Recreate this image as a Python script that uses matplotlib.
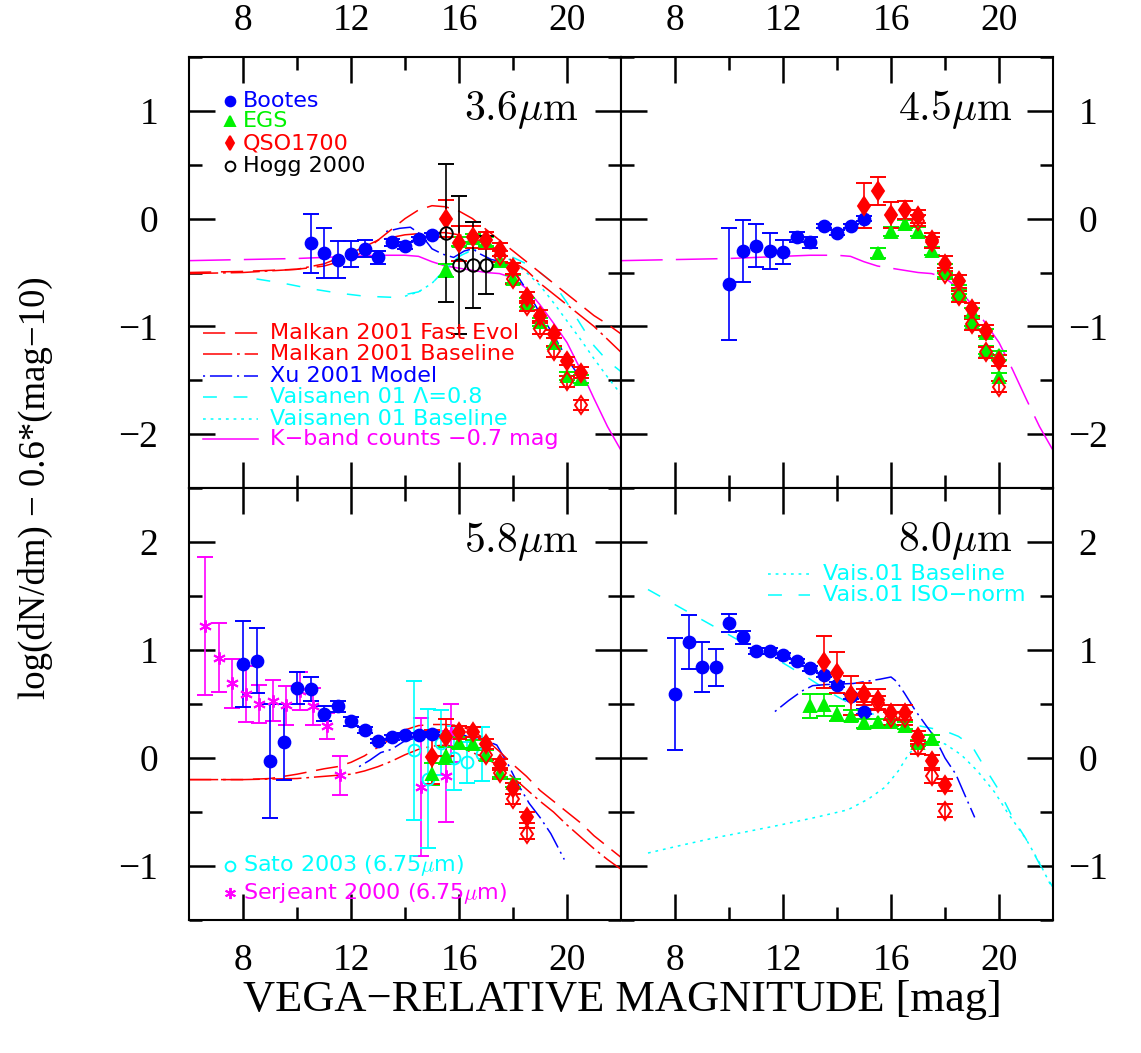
import matplotlib
matplotlib.use('Agg')
import matplotlib.pyplot as plt
from matplotlib.ticker import FixedLocator, MultipleLocator

plt.rcParams['mathtext.fontset'] = 'cm'
plt.rcParams['lines.scale_dashes'] = False

BLUE, GREEN, RED = (0, 0, 1), (0, 0.95, 0), (1, 0, 0)
CYAN, MAGENTA, BLACK = (0, 1, 1), (1, 0, 1), (0, 0, 0)

# ---------------- 3.6 micron ----------------
m36_boo = [10.5, 11, 11.5, 12, 12.5, 13, 13.5, 14, 14.5, 15]
y36_boo = [-0.23, -0.32, -0.38, -0.33, -0.28, -0.36, -0.22, -0.25, -0.19, -0.15]
e36_boo = [0.27, 0.23, 0.17, 0.12, 0.08, 0.06, 0.03, 0.03, 0.02, 0.02]

m36_qso = [15.5, 16, 16.5, 17, 17.5, 18, 18.5, 19, 19.5, 20, 20.5]
y36_qso = [0.0, -0.23, -0.17, -0.2, -0.29, -0.46, -0.73, -0.9, -1.07, -1.32, -1.43]
e36_qso = [0.17, 0.16, 0.1, 0.08, 0.06, 0.05, 0.05, 0.05, 0.04, 0.04, 0.05]
m36_qso2 = [17.5, 18, 18.5, 19, 19.5, 20, 20.5]
y36_qso2 = [-0.35, -0.56, -0.81, -1.02, -1.23, -1.51, -1.73]
e36_qso2 = [0.05, 0.05, 0.05, 0.05, 0.05, 0.05, 0.05]

m36_egs = [15.5, 16, 16.5, 17, 17.5, 18, 18.5, 19, 19.5, 20, 20.5]
y36_egs = [-0.48, -0.21, -0.18, -0.21, -0.39, -0.56, -0.78, -0.96, -1.15, -1.46, -1.49]
e36_egs = [0.06, 0.04, 0.04, 0.04, 0.04, 0.04, 0.04, 0.04, 0.04, 0.04, 0.04]

m36_hogg = [15.5, 16, 16.5, 17]
y36_hogg = [-0.13, -0.43, -0.43, -0.43]
e36_hogg = [0.64, 0.64, 0.4, 0.27]

# models 3.6
mal_fast36_m = [6, 8, 10, 11, 12, 12.5, 13, 13.5, 14, 14.5, 15, 15.5, 16, 16.5, 17, 17.5,
                18, 18.5, 19, 19.5, 20, 20.5, 21, 21.5, 22]
mal_fast36_y = [-0.5, -0.49, -0.47, -0.44, -0.37, -0.3, -0.2, -0.1, 0.0, 0.08, 0.12, 0.11,
                0.07, 0.0, -0.1, -0.2, -0.3, -0.4, -0.5, -0.6, -0.7, -0.8, -0.9, -0.98, -1.07]
mal_base36_m = [6, 8, 10, 11, 12, 13, 14, 15, 15.5, 16, 16.5, 17, 17.5, 18, 18.5, 19, 19.5,
                20, 20.5, 21, 21.5, 22]
mal_base36_y = [-0.51, -0.5, -0.47, -0.42, -0.32, -0.2, -0.15, -0.13, -0.13, -0.15, -0.18,
                -0.23, -0.3, -0.4, -0.48, -0.6, -0.7, -0.8, -0.9, -1.0, -1.12, -1.24]
xu36_m = [13.3, 13.8, 14.2, 14.6, 15.0, 15.4, 15.8, 16.2, 16.5, 16.8, 17.2, 17.6, 18.0, 18.5,
          19.0, 19.5, 20.0, 20.5]
xu36_y = [-0.12, -0.09, -0.08, -0.15, -0.28, -0.33, -0.36, -0.3, -0.28, -0.33, -0.38, -0.4,
          -0.47, -0.66, -0.88, -1.08, -1.3, -1.48]
vl36_m = [8.5, 9.5, 10.5, 11.5, 12.5, 13.5, 14.5, 15, 15.5, 16, 16.5, 17, 17.5, 18, 18.5, 19,
          19.5, 20, 20.5, 21, 21.5, 22]
vl36_y = [-0.56, -0.6, -0.65, -0.69, -0.72, -0.73, -0.68, -0.6, -0.47, -0.35, -0.29, -0.27,
          -0.3, -0.36, -0.42, -0.5, -0.6, -0.78, -0.98, -1.18, -1.32, -1.42]
vb36_m = [14.0, 14.5, 15, 15.5, 16, 16.5, 17, 17.5, 18, 18.5, 19, 19.5, 20, 20.5, 21, 21.5, 22]
vb36_y = [-0.72, -0.68, -0.6, -0.47, -0.35, -0.29, -0.27, -0.32, -0.4, -0.5, -0.62, -0.78,
          -0.95, -1.12, -1.3, -1.47, -1.63]
kband_m = [6, 8, 10, 12, 13, 14, 14.5, 15, 15.5, 16, 16.5, 17, 17.5, 18, 18.5, 19, 19.5, 20,
           20.5, 21, 21.5, 22]
kband_y = [-0.39, -0.38, -0.37, -0.35, -0.34, -0.34, -0.35, -0.4, -0.44, -0.46, -0.48, -0.5,
           -0.51, -0.55, -0.65, -0.8, -0.97, -1.15, -1.4, -1.67, -1.93, -2.15]

# ---------------- 4.5 micron ----------------
m45_boo = [10, 10.5, 11, 11.5, 12, 12.5, 13, 13.5, 14, 14.5, 15]
y45_boo = [-0.61, -0.3, -0.25, -0.3, -0.31, -0.17, -0.22, -0.07, -0.13, -0.07, 0.0]
e45_boo = [0.52, 0.29, 0.2, 0.17, 0.11, 0.05, 0.05, 0.02, 0.02, 0.02, 0.02]
m45_qso = [15, 15.5, 16, 16.5, 17, 17.5, 18, 18.5, 19, 19.5, 20]
y45_qso = [0.12, 0.26, 0.03, 0.08, 0.02, -0.2, -0.42, -0.58, -0.84, -1.04, -1.32]
e45_qso = [0.21, 0.13, 0.12, 0.08, 0.06, 0.07, 0.07, 0.06, 0.06, 0.05, 0.05]
m45_qso2 = [17, 17.5, 18, 18.5, 19, 19.5, 20]
y45_qso2 = [-0.02, -0.22, -0.51, -0.72, -0.98, -1.24, -1.56]
e45_qso2 = [0.05, 0.05, 0.05, 0.05, 0.05, 0.05, 0.05]
m45_egs = [15.5, 16, 16.5, 17, 17.5, 18, 18.5, 19, 19.5, 20]
y45_egs = [-0.32, -0.12, -0.05, -0.12, -0.3, -0.46, -0.66, -0.87, -1.06, -1.27]
e45_egs = [0.05, 0.04, 0.04, 0.04, 0.04, 0.04, 0.04, 0.04, 0.04, 0.04]
m45_egs2 = [18, 18.5, 19, 19.5, 20]
y45_egs2 = [-0.5, -0.7, -0.96, -1.22, -1.47]
e45_egs2 = [0.04, 0.04, 0.04, 0.04, 0.04]

# ---------------- 5.8 micron ----------------
m58_boo = [8, 8.5, 9, 9.5, 10, 10.5, 11, 11.5, 12, 12.5, 13, 13.5, 14, 14.5, 15]
y58_boo = [0.87, 0.9, -0.03, 0.15, 0.65, 0.64, 0.41, 0.48, 0.34, 0.26, 0.16, 0.19, 0.21,
           0.21, 0.22]
e58_boo = [0.4, 0.3, 0.53, 0.35, 0.15, 0.11, 0.07, 0.05, 0.04, 0.03, 0.02, 0.02, 0.02, 0.02,
           0.02]
m58_qso = [15, 15.5, 16, 16.5, 17, 17.5, 18, 18.5]
y58_qso = [0.01, 0.19, 0.24, 0.24, 0.13, -0.06, -0.28, -0.55]
e58_qso = [0.25, 0.17, 0.06, 0.05, 0.05, 0.05, 0.05, 0.05]
m58_qso2 = [17, 17.5, 18, 18.5]
y58_qso2 = [0.03, -0.14, -0.38, -0.7]
e58_qso2 = [0.05, 0.05, 0.05, 0.05]
m58_egs = [15, 15.5, 16, 16.5, 17, 17.5, 18]
y58_egs = [-0.15, 0.02, 0.14, 0.13, 0.03, -0.14, -0.23]
e58_egs = [0.1, 0.08, 0.05, 0.04, 0.04, 0.04, 0.04]
m58_sato = [14.35, 14.84, 15.32, 15.81, 16.3, 16.84]
y58_sato = [0.07, -0.19, 0.14, 0.0, -0.04, 0.04]
e58_sato = [0.64, 0.64, 0.3, 0.3, 0.19, 0.25]
m58_serj = [6.6, 7.1, 7.6, 8.1, 8.6, 9.1, 9.6, 10.1, 10.6, 11.1, 11.6, 14.6, 15.5, 15.7]
y58_serj = [1.22, 0.93, 0.69, 0.59, 0.5, 0.53, 0.49, 0.62, 0.48, 0.3, -0.16, -0.27, -0.17,
            0.23]
e58_serj = [0.64, 0.32, 0.23, 0.26, 0.18, 0.19, 0.18, 0.18, 0.17, 0.12, 0.18, 0.64, 0.42,
            0.27]

mal_fast58_m = [6, 8, 9, 10, 11, 11.5, 12, 12.5, 13, 13.5, 14, 14.5, 15, 15.5, 16, 16.5, 17,
                17.5, 18, 18.5, 19, 19.5, 20, 20.5, 21, 21.5, 22]
mal_fast58_y = [-0.2, -0.2, -0.19, -0.15, -0.1, -0.08, -0.04, 0.02, 0.1, 0.18, 0.26, 0.3,
                0.31, 0.31, 0.3, 0.25, 0.17, 0.06, -0.06, -0.17, -0.3, -0.4, -0.5, -0.6, -0.72,
                -0.82, -0.92]
mal_base58_m = [6, 8, 10, 11, 12, 12.5, 13, 13.5, 14, 14.5, 15, 15.5, 16, 16.5, 17, 17.5, 18,
                18.5, 19, 19.5, 20, 20.5, 21, 21.5, 22]
mal_base58_y = [-0.2, -0.2, -0.19, -0.17, -0.15, -0.12, -0.08, -0.03, 0.03, 0.08, 0.11, 0.12,
                0.1, 0.05, 0.0, -0.08, -0.18, -0.29, -0.4, -0.5, -0.62, -0.73, -0.84, -0.94,
                -1.03]
xu58_m = [12.3, 12.7, 13.1, 13.5, 14.0, 14.5, 15.0, 15.5, 16.0, 16.5, 17.0, 17.4, 17.8, 18.2,
          18.6, 19.0, 19.4, 19.9]
xu58_y = [-0.08, -0.02, 0.05, 0.08, 0.16, 0.19, 0.2, 0.23, 0.23, 0.18, 0.16, 0.12, -0.05,
          -0.25, -0.42, -0.55, -0.7, -0.94]

# ---------------- 8.0 micron ----------------
m80_boo = [8, 8.5, 9, 9.5, 10, 10.5, 11, 11.5, 12, 12.5, 13, 13.5, 14, 14.5, 15]
y80_boo = [0.59, 1.07, 0.84, 0.84, 1.25, 1.12, 0.99, 0.99, 0.95, 0.9, 0.83, 0.77, 0.68, 0.57,
           0.43]
e80_boo = [0.52, 0.25, 0.23, 0.17, 0.08, 0.06, 0.03, 0.03, 0.02, 0.02, 0.02, 0.02, 0.02, 0.02,
           0.02]
m80_qso = [13.5, 14, 14.5, 15, 15.5, 16, 16.5, 17, 17.5, 18]
y80_qso = [0.89, 0.79, 0.58, 0.59, 0.54, 0.42, 0.42, 0.19, -0.03, -0.25]
e80_qso = [0.24, 0.19, 0.18, 0.1, 0.1, 0.07, 0.07, 0.06, 0.06, 0.06]
m80_qso2 = [15, 15.5, 16, 16.5, 17, 17.5, 18]
y80_qso2 = [0.58, 0.51, 0.37, 0.37, 0.1, -0.17, -0.49]
e80_qso2 = [0.06, 0.06, 0.06, 0.06, 0.06, 0.06, 0.06]
m80_egs = [13, 13.5, 14, 14.5, 15, 15.5, 16, 16.5, 17, 17.5]
y80_egs = [0.48, 0.49, 0.41, 0.39, 0.32, 0.33, 0.33, 0.3, 0.14, 0.18]
e80_egs = [0.11, 0.1, 0.07, 0.05, 0.04, 0.03, 0.03, 0.03, 0.03, 0.03]

viso80_m = [7.0, 8.0, 9.0, 10.0, 11.0, 12.0, 13.0, 14.0, 15.0, 16.0, 17.0, 18.0, 18.5, 19.0,
            19.5, 20.0, 20.5, 21.0, 21.5, 22.0]
viso80_y = [1.56, 1.42, 1.28, 1.14, 1.0, 0.88, 0.73, 0.57, 0.43, 0.36, 0.3, 0.25, 0.2, 0.11,
            -0.1, -0.3, -0.55, -0.75, -0.98, -1.2]
vbase80_m = [7.0, 8.2, 9.45, 10.7, 11.9, 13.2, 14.4, 15.16, 15.78, 16.27, 16.64, 17.0, 17.5,
             18.0, 18.6, 19.2, 19.85, 20.3, 21.0, 21.5, 22.0]
vbase80_y = [-0.88, -0.81, -0.74, -0.68, -0.62, -0.55, -0.48, -0.38, -0.27, -0.12, 0.03,
             0.13, 0.14, 0.13, 0.03, -0.12, -0.32, -0.5, -0.75, -0.97, -1.22]
xu80_m = [11.7, 12.2, 12.7, 13.1, 13.6, 14.1, 14.6, 15.1, 15.6, 16.0, 16.2, 16.5, 16.9, 17.3,
          17.6, 18.0, 18.4, 18.8, 19.1]
xu80_y = [0.43, 0.53, 0.62, 0.67, 0.68, 0.685, 0.69, 0.71, 0.73, 0.75, 0.71, 0.6, 0.44, 0.3,
          0.2, 0.0, -0.15, -0.38, -0.55]

# line styles (dash lengths in points)
D_FAST = (0, (16, 7))
D_BASE = (0, (21, 3.5, 2, 3.5))
D_XU = (0, (1.5, 3.5, 16, 3.5))
D_VL = (0, (10, 12))
D_VB = (0, (2, 3.5))
D_K = (0, (30, 9.5))
LW = 1.1
STAR = (6, 2, 0)

W, H = 1141, 1053
fig = plt.figure(figsize=(W / 100, H / 100), dpi=100)


def box(x0, y0, x1, y1):
    return [x0 / W, 1 - y1 / H, (x1 - x0) / W, (y1 - y0) / H]


ax36 = fig.add_axes(box(189, 57, 621, 488))
ax45 = fig.add_axes(box(621, 57, 1053, 488))
ax58 = fig.add_axes(box(189, 488, 621, 920))
ax80 = fig.add_axes(box(621, 488, 1053, 920))


def style(ax, ylim, top, left):
    ax.set_xlim(6, 22)
    ax.set_ylim(*ylim)
    ax.xaxis.set_major_locator(FixedLocator([8, 12, 16, 20]))
    ax.xaxis.set_minor_locator(FixedLocator([10, 14, 18]))
    ax.yaxis.set_major_locator(MultipleLocator(1))
    ax.yaxis.set_minor_locator(MultipleLocator(0.5))
    ax.tick_params(which='both', direction='in', top=True, bottom=True, left=True,
                   right=True, width=1.8, labelsize=27, color='black')
    ax.tick_params(which='major', length=19)
    ax.tick_params(which='minor', length=9.5)
    ax.tick_params(axis='x', labeltop=top, labelbottom=not top, pad=14 if top else 17)
    ax.tick_params(axis='y', labelleft=left, labelright=not left, pad=22 if left else 25)
    for lab in ax.get_xticklabels() + ax.get_yticklabels():
        lab.set_fontfamily('Liberation Serif')
    if not left:
        for lab in ax.get_yticklabels():
            lab.set_horizontalalignment('center')
    for s in ax.spines.values():
        s.set_linewidth(1.5)


def pts(ax, x, y, e, color, marker, ms, open_=False, z=3):
    ax.errorbar(x, y, yerr=e, fmt='', marker=marker, linestyle='none', color=color, ms=ms,
                mfc='none' if open_ else color, mec=color, mew=1.4,
                elinewidth=1.2, capsize=6, capthick=1.2, zorder=z)


def line(ax, x, y, color, ls):
    ax.plot(x, y, color=color, lw=LW, linestyle=ls, zorder=2)


style(ax36, (-2.5, 1.5), True, True)
style(ax45, (-2.5, 1.5), True, False)
style(ax58, (-1.5, 2.5), False, True)
style(ax80, (-1.5, 2.5), False, False)

# ---- 3.6 panel ----
line(ax36, kband_m[:5], kband_y[:5], MAGENTA, D_K)
line(ax36, kband_m[4:], kband_y[4:], MAGENTA, '-')
line(ax36, vl36_m, vl36_y, CYAN, D_VL)
line(ax36, vb36_m, vb36_y, CYAN, D_VB)
line(ax36, xu36_m, xu36_y, BLUE, D_XU)
line(ax36, mal_fast36_m, mal_fast36_y, RED, D_FAST)
line(ax36, mal_base36_m, mal_base36_y, RED, D_BASE)
pts(ax36, m36_boo, y36_boo, e36_boo, BLUE, 'o', 8.5)
pts(ax36, m36_egs, y36_egs, e36_egs, GREEN, '^', 8)
pts(ax36, m36_qso2, y36_qso2, e36_qso2, RED, 'd', 9.5, open_=True)
pts(ax36, m36_qso, y36_qso, e36_qso, RED, 'd', 9.5)
pts(ax36, m36_hogg, y36_hogg, e36_hogg, BLACK, 'o', 9, open_=True)

# ---- 4.5 panel ----
line(ax45, kband_m, kband_y, MAGENTA, D_K)
pts(ax45, m45_boo, y45_boo, e45_boo, BLUE, 'o', 8.5)
pts(ax45, m45_egs2, y45_egs2, e45_egs2, GREEN, '^', 8)
pts(ax45, m45_egs, y45_egs, e45_egs, GREEN, '^', 8)
pts(ax45, m45_qso2, y45_qso2, e45_qso2, RED, 'd', 9.5, open_=True)
pts(ax45, m45_qso, y45_qso, e45_qso, RED, 'd', 9.5)

# ---- 5.8 panel ----
line(ax58, xu58_m, xu58_y, BLUE, D_XU)
line(ax58, mal_fast58_m, mal_fast58_y, RED, D_FAST)
line(ax58, mal_base58_m, mal_base58_y, RED, D_BASE)
pts(ax58, m58_serj, y58_serj, e58_serj, MAGENTA, STAR, 9)
pts(ax58, m58_sato, y58_sato, e58_sato, CYAN, 'o', 8.5, open_=True)
pts(ax58, m58_boo, y58_boo, e58_boo, BLUE, 'o', 8.5)
pts(ax58, m58_egs, y58_egs, e58_egs, GREEN, '^', 8)
pts(ax58, m58_qso2, y58_qso2, e58_qso2, RED, 'd', 9.5, open_=True)
pts(ax58, m58_qso, y58_qso, e58_qso, RED, 'd', 9.5)

# ---- 8.0 panel ----
line(ax80, viso80_m, viso80_y, CYAN, D_VL)
line(ax80, vbase80_m, vbase80_y, CYAN, D_VB)
line(ax80, xu80_m, xu80_y, BLUE, D_XU)
pts(ax80, m80_boo, y80_boo, e80_boo, BLUE, 'o', 8.5)
pts(ax80, m80_egs, y80_egs, e80_egs, GREEN, '^', 8)
pts(ax80, m80_qso2, y80_qso2, e80_qso2, RED, 'd', 9.5, open_=True)
pts(ax80, m80_qso, y80_qso, e80_qso, RED, 'd', 9.5)

# ---- panel titles ----
for ax, lab, fx, fy in ((ax36, r'$3.6\mu{\rm m}$', 0.900, 0.854),
                        (ax45, r'$4.5\mu{\rm m}$', 0.905, 0.854),
                        (ax58, r'$5.8\mu{\rm m}$', 0.900, 0.852),
                        (ax80, r'$8.0\mu{\rm m}$', 0.905, 0.855)):
    ax.text(fx, fy, lab, transform=ax.transAxes, ha='right', va='baseline', fontsize=30)

# ---- legends ----
LEG_FS = 16


def sym_row(ax, fy, text, color, marker, ms, open_=False):
    ax.plot([0.095], [fy], marker=marker, ms=ms, color=color, linestyle='none',
            mfc='none' if open_ else color, mec=color, mew=1.4,
            transform=ax.transAxes, clip_on=False)
    ax.text(0.125, fy, text, color=color, fontsize=LEG_FS, va='center', ha='left',
            transform=ax.transAxes)


sym_row(ax36, 0.898, 'Bootes', BLUE, 'o', 7)
sym_row(ax36, 0.852, 'EGS', GREEN, '^', 6.5)
sym_row(ax36, 0.800, 'QSO1700', RED, 'd', 7.5)
sym_row(ax36, 0.747, 'Hogg 2000', BLACK, 'o', 7, open_=True)


def line_row(ax, x0, x1, xt, fy, text, color, ls):
    ax.plot([x0, x1], [fy, fy], color=color, lw=LW, linestyle=ls, transform=ax.transAxes)
    ax.text(xt, fy, text, color=color, fontsize=LEG_FS, va='center', ha='left',
            transform=ax.transAxes)


line_row(ax36, 0.032, 0.160, 0.1875, 0.360, 'Malkan 2001 Fast Evol', RED, D_FAST)
line_row(ax36, 0.032, 0.160, 0.1875, 0.311, 'Malkan 2001 Baseline', RED, D_BASE)
line_row(ax36, 0.032, 0.160, 0.1875, 0.260, 'Xu 2001 Model', BLUE, D_XU)
line_row(ax36, 0.032, 0.160, 0.1875, 0.211, 'Vaisanen 01 Λ=0.8', CYAN, D_VL)
line_row(ax36, 0.032, 0.160, 0.1875, 0.160, 'Vaisanen 01 Baseline', CYAN, D_VB)
line_row(ax36, 0.032, 0.160, 0.1875, 0.114, 'K\u2212band counts \u22120.7 mag', MAGENTA, '-')

sym_row(ax58, 0.125, r'Sato 2003 (6.75$\mu$m)', CYAN, 'o', 7, open_=True)
sym_row(ax58, 0.062, r'Serjeant 2000 (6.75$\mu$m)', MAGENTA, STAR, 8)

line_row(ax80, 0.340, 0.4375, 0.468, 0.802, 'Vais.01 Baseline', CYAN, D_VB)
line_row(ax80, 0.340, 0.4375, 0.468, 0.752, 'Vais.01 ISO\u2212norm', CYAN, D_VL)

# ---- axis labels ----
fig.text(622 / W, 1 - 1000 / H, 'VEGA\u2212RELATIVE MAGNITUDE [mag]', ha='center',
         va='center', fontsize=32, fontfamily='Liberation Serif')
fig.text(35 / W, 1 - 488 / H, 'log(dN/dm) \u2212 0.6*(mag\u221210)', ha='center',
         va='center', rotation=90, fontsize=26.5, fontfamily='Liberation Serif')

fig.savefig('out.png', dpi=100, facecolor='white')
